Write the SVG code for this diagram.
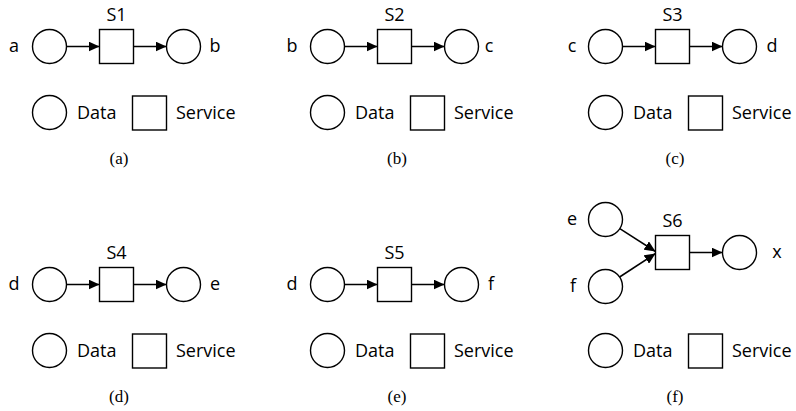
<svg xmlns="http://www.w3.org/2000/svg" width="796" height="411" viewBox="0 0 796 411">
<style>
.d{fill:#fff;stroke:#000;stroke-width:1.4}
.s{fill:#fff;stroke:#000;stroke-width:1.4}
.e{fill:none;stroke:#000;stroke-width:1.5}
.t{font-family:"Open Sans","Liberation Sans",sans-serif;font-size:18px;fill:#000}
.m{text-anchor:middle}
.c{font-family:"Liberation Serif","Times New Roman",serif;font-size:17px;fill:#000;text-anchor:middle}
</style>
<defs>
<marker id="ah" viewBox="0 0 11 10" refX="11" refY="5" markerWidth="11" markerHeight="10" markerUnits="userSpaceOnUse" orient="auto">
<path d="M0,0 L11,5 L0,10 z" fill="#000"/>
</marker>
<g id="legend">
<circle class="d" cx="49.5" cy="112.5" r="17"/>
<text class="t" x="77" y="119">Data</text>
<rect class="s" x="132.5" y="96" width="34" height="34"/>
<text class="t" x="176" y="119">Service</text>
</g>
</defs>

<!-- (a) -->
<g id="panel-a">
<g id="a-data-a"><circle class="d" cx="49.5" cy="46.5" r="17"/><text class="t m" x="14" y="52">a</text></g>
<g id="a-S1"><rect class="s" x="99.5" y="29.5" width="34" height="34"/><text class="t m" x="116.5" y="21">S1</text></g>
<g id="a-data-b"><circle class="d" cx="183.5" cy="46.5" r="17"/><text class="t m" x="215" y="52">b</text></g>
<use href="#legend"/>
<text class="c" x="119" y="164">(a)</text>
</g>

<!-- (b) -->
<g id="panel-b" transform="translate(278,0)">
<g id="b-data-b"><circle class="d" cx="49.5" cy="46.5" r="17"/><text class="t m" x="14" y="52">b</text></g>
<g id="b-S2"><rect class="s" x="99.5" y="29.5" width="34" height="34"/><text class="t m" x="116.5" y="21">S2</text></g>
<g id="b-data-c"><circle class="d" cx="183.5" cy="46.5" r="17"/><text class="t m" x="211" y="52">c</text></g>
<use href="#legend"/>
<text class="c" x="119" y="164">(b)</text>
</g>

<!-- (c) -->
<g id="panel-c" transform="translate(556,0)">
<g id="c-data-c"><circle class="d" cx="49.5" cy="46.5" r="17"/><text class="t m" x="16" y="52">c</text></g>
<g id="c-S3"><rect class="s" x="99.5" y="29.5" width="34" height="34"/><text class="t m" x="116.5" y="21">S3</text></g>
<g id="c-data-d"><circle class="d" cx="183.5" cy="46.5" r="17"/><text class="t m" x="216" y="52">d</text></g>
<use href="#legend"/>
<text class="c" x="119" y="164">(c)</text>
</g>

<!-- (d) -->
<g id="panel-d" transform="translate(0,238)">
<g id="d-data-d"><circle class="d" cx="49.5" cy="46.5" r="17"/><text class="t m" x="14" y="52">d</text></g>
<g id="d-S4"><rect class="s" x="99.5" y="29.5" width="34" height="34"/><text class="t m" x="116.5" y="21">S4</text></g>
<g id="d-data-e"><circle class="d" cx="183.5" cy="46.5" r="17"/><text class="t m" x="215" y="52">e</text></g>
<use href="#legend"/>
<text class="c" x="119" y="164">(d)</text>
</g>

<!-- (e) -->
<g id="panel-e" transform="translate(278,238)">
<g id="e-data-d"><circle class="d" cx="49.5" cy="46.5" r="17"/><text class="t m" x="14" y="52">d</text></g>
<g id="e-S5"><rect class="s" x="99.5" y="29.5" width="34" height="34"/><text class="t m" x="116.5" y="21">S5</text></g>
<g id="e-data-f"><circle class="d" cx="183.5" cy="46.5" r="17"/><text class="t m" x="213" y="52">f</text></g>
<use href="#legend"/>
<text class="c" x="119" y="164">(e)</text>
</g>

<!-- (f) -->
<g id="panel-f">
<g id="f-data-e"><circle class="d" cx="605.5" cy="219.5" r="17"/><text class="t m" x="572" y="225">e</text></g>
<g id="f-data-f"><circle class="d" cx="605.5" cy="286.5" r="17"/><text class="t m" x="573" y="292">f</text></g>
<g id="f-S6"><rect class="s" x="655.5" y="235.5" width="34" height="34"/><text class="t m" x="672.5" y="227">S6</text></g>
<g id="f-data-x"><circle class="d" cx="739.5" cy="252.5" r="17"/><text class="t m" x="777" y="258">x</text></g>
<g transform="translate(556,238)"><use href="#legend"/></g>
<text class="c" x="675" y="402">(f)</text>
</g>

<g id="connectors">
<line class="e" x1="66.5" y1="46.5" x2="99.5" y2="46.5" marker-end="url(#ah)"/>
<line class="e" x1="133.5" y1="46.5" x2="166.5" y2="46.5" marker-end="url(#ah)"/>
<line class="e" x1="344.5" y1="46.5" x2="377.5" y2="46.5" marker-end="url(#ah)"/>
<line class="e" x1="411.5" y1="46.5" x2="444.5" y2="46.5" marker-end="url(#ah)"/>
<line class="e" x1="622.5" y1="46.5" x2="655.5" y2="46.5" marker-end="url(#ah)"/>
<line class="e" x1="689.5" y1="46.5" x2="722.5" y2="46.5" marker-end="url(#ah)"/>
<line class="e" x1="66.5" y1="284.5" x2="99.5" y2="284.5" marker-end="url(#ah)"/>
<line class="e" x1="133.5" y1="284.5" x2="166.5" y2="284.5" marker-end="url(#ah)"/>
<line class="e" x1="344.5" y1="284.5" x2="377.5" y2="284.5" marker-end="url(#ah)"/>
<line class="e" x1="411.5" y1="284.5" x2="444.5" y2="284.5" marker-end="url(#ah)"/>
<line class="e" x1="619.8" y1="228.6" x2="655.5" y2="251.5" marker-end="url(#ah)"/>
<line class="e" x1="619.6" y1="277" x2="655.5" y2="253.5" marker-end="url(#ah)"/>
<line class="e" x1="689.5" y1="252.5" x2="722.5" y2="252.5" marker-end="url(#ah)"/>
</g>
</svg>
